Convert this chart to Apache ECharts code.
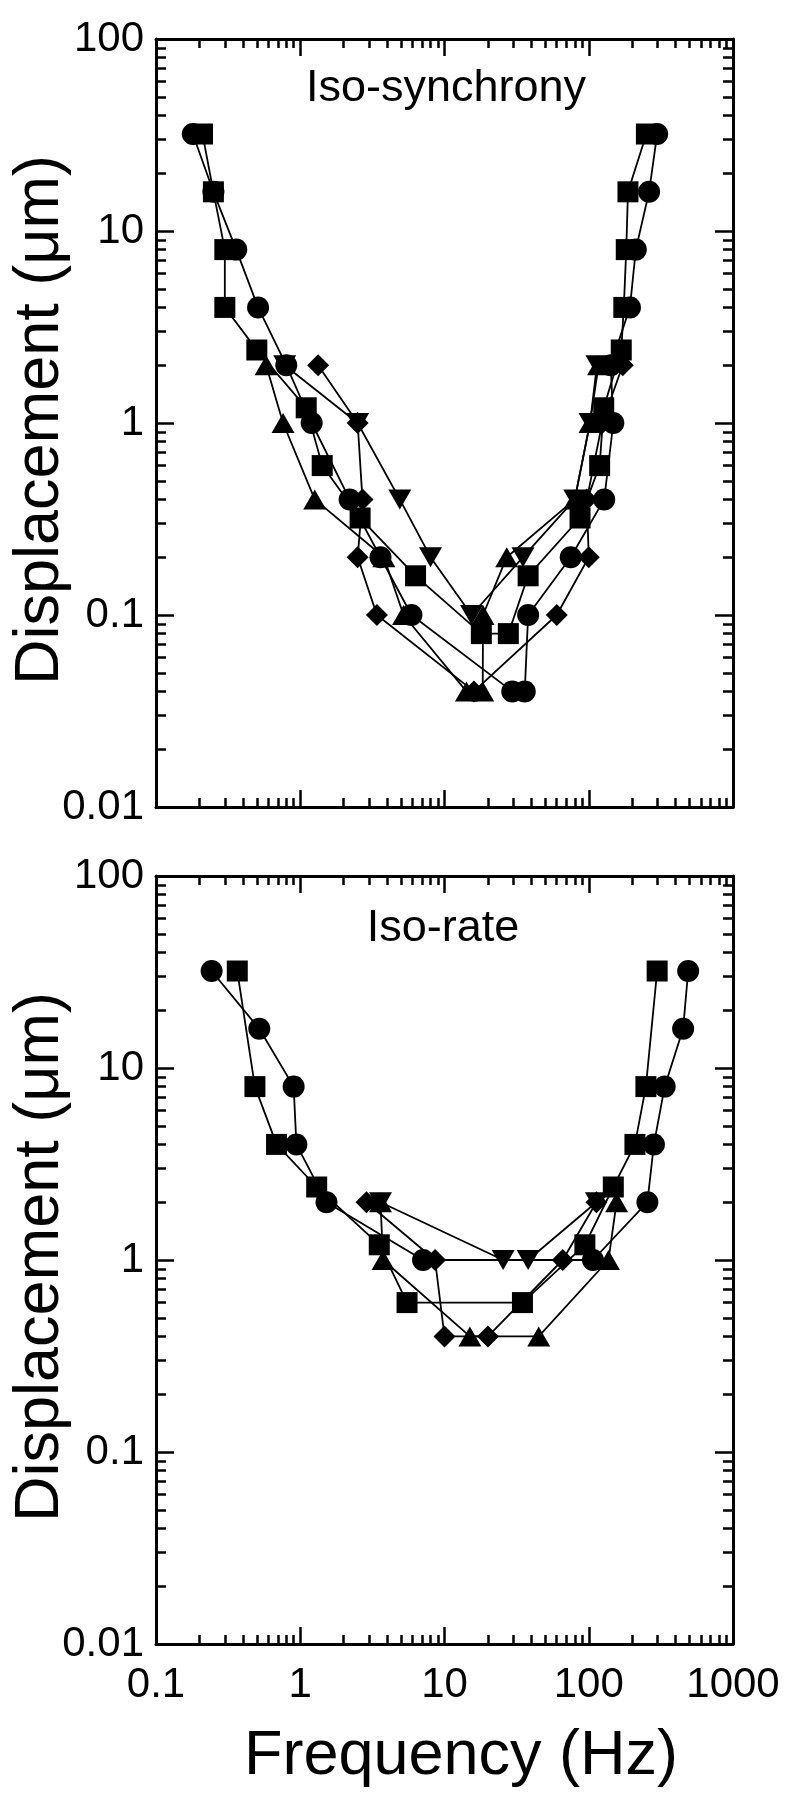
<!DOCTYPE html>
<html><head><meta charset="utf-8">
<script src="https://cdn.jsdelivr.net/npm/echarts@6.0.0/dist/echarts.min.js"></script>
<style>html,body{margin:0;padding:0;background:#fff}#c{width:788px;height:1800px}</style>
</head><body><div id="c"></div>
<script>
// ---- tick values / labels ----
const freqTicks = [0.1, 1, 10, 100, 1000];
const freqTickLabels = ['0.1', '1', '10', '100', '1000'];
const freqMinorTicks = [0.2,0.3,0.4,0.5,0.6,0.7,0.8,0.9, 2,3,4,5,6,7,8,9, 20,30,40,50,60,70,80,90, 200,300,400,500,600,700,800,900];
const dispTicks = [0.01, 0.1, 1, 10, 100];
const dispTickLabels = ['0.01', '0.1', '1', '10', '100'];
const dispMinorTicks = [0.02,0.03,0.04,0.05,0.06,0.07,0.08,0.09, 0.2,0.3,0.4,0.5,0.6,0.7,0.8,0.9, 2,3,4,5,6,7,8,9, 20,30,40,50,60,70,80,90];

// ---- Iso-synchrony panel: [frequency Hz, displacement um] ----
const syncCircle = [[0.18,32],[0.25,16],[0.36,8],[0.51,4],[0.80,2],[1.2,1],[2.2,0.4],[3.6,0.2],[5.9,0.1],[29.5,0.04],[36,0.04],[38,0.1],[75,0.2],[128,0.4],[148,1],[142,2],[193,4],[212,8],[262,16],[298,32]];
const syncSquare = [[0.21,32],[0.25,16],[0.30,8],[0.30,4],[0.50,2.4],[1.1,1.2],[1.42,0.6],[2.6,0.32],[6.3,0.16],[18,0.08],[27.7,0.08],[38,0.16],[87,0.32],[119,0.6],[127,1.2],[168,2.4],[175,4],[182,8],[187,16],[251,32]];
const syncTriangle = [[0.58,2],[0.76,1],[1.26,0.4],[3.8,0.2],[5.2,0.1],[14.2,0.04],[18.4,0.04],[18.5,0.1],[27,0.2],[80,0.4],[102,1],[117,2]];
const syncDiamond = [[1.33,2],[2.5,1],[2.7,0.4],[2.5,0.2],[3.4,0.1],[16,0.04],[60,0.1],[100,0.2],[97,0.4],[124,1],[172,2]];
const syncInvTriangle = [[0.78,2],[2.5,1],[4.9,0.4],[8.0,0.2],[15.4,0.1],[35,0.2],[80,0.4],[102,1],[114,2]];

// ---- Iso-rate panel ----
const rateCircle = [[0.243,32],[0.52,16],[0.90,8],[0.94,4],[1.52,2],[7.1,1],[107,1],[255,2],[283,4],[336,8],[451,16],[489,32]];
const rateSquare = [[0.366,32],[0.485,8],[0.685,4],[1.3,2.4],[3.53,1.2],[5.5,0.6],[34.7,0.6],[94,1.2],[148,2.4],[209,4],[249,8],[298,32]];
const rateTriangle = [[3.6,2],[3.75,1],[15,0.4],[45,0.4],[137,1],[156,2]];
const rateDiamond = [[2.88,2],[8.6,1],[10,0.4],[20,0.4],[66,1],[113,2]];
const rateInvTriangle = [[3.6,2],[25.5,1],[38,1],[113,2]];

const FONT = "'Liberation Sans', Arial, Helvetica, sans-serif";
const BLACK = '#000';

function fmtFreq(v){ const i = Math.round(Math.log10(v)) + 1; return freqTickLabels[i] || ''; }
function fmtDisp(v){ const i = Math.round(Math.log10(v)) + 2; return dispTickLabels[i] || ''; }

const grids = [
  {left:156, top:39, width:577, height:768, outerBoundsMode:'none'},
  {left:156, top:876, width:577, height:768, outerBoundsMode:'none'}
];

const xAxes = [], yAxes = [];
grids.forEach((g, gi) => {
  ['bottom','top'].forEach(pos => {
    xAxes.push({gridIndex:gi, type:'log', logBase:10, min:0.1, max:1000, position:pos,
      axisLine:{show:true, lineStyle:{color:BLACK, width:3}},
      axisTick:{show:true, inside:true, length:17, customValues:freqTicks, lineStyle:{color:BLACK, width:2.5}},
      axisLabel:{show: gi===1 && pos==='bottom', customValues:freqTicks, formatter:fmtFreq, color:BLACK, fontSize:42, fontFamily:FONT, margin:20},
      splitLine:{show:false}, minorTick:{show:false}});
    xAxes.push({gridIndex:gi, type:'log', logBase:10, min:0.1, max:1000, position:pos,
      axisLine:{show:false},
      axisTick:{show:true, inside:true, length:9, customValues:freqMinorTicks, lineStyle:{color:BLACK, width:2.5}},
      axisLabel:{show:false}, splitLine:{show:false}});
  });
  ['left','right'].forEach(pos => {
    yAxes.push({gridIndex:gi, type:'log', logBase:10, min:0.01, max:100, position:pos,
      axisLine:{show:true, lineStyle:{color:BLACK, width:3}},
      axisTick:{show:true, inside:true, length:18, customValues:dispTicks, lineStyle:{color:BLACK, width:2.5}},
      axisLabel:{show: pos==='left', customValues:dispTicks, formatter:fmtDisp, color:BLACK, fontSize:42, fontFamily:FONT, margin:12},
      splitLine:{show:false}});
    yAxes.push({gridIndex:gi, type:'log', logBase:10, min:0.01, max:100, position:pos,
      axisLine:{show:false},
      axisTick:{show:true, inside:true, length:10, customValues:dispMinorTicks, lineStyle:{color:BLACK, width:2.5}},
      axisLabel:{show:false}, splitLine:{show:false}});
  });
});

function mk(data, gi, symbol, size, rot){
  return {type:'line', xAxisIndex: gi*4, yAxisIndex: gi*4, data:data,
    symbol:symbol, symbolSize:size, symbolRotate: rot||0, showSymbol:true, showAllSymbol:true,
    lineStyle:{color:BLACK, width:1.8}, itemStyle:{color:BLACK, borderWidth:0},
    emphasis:{disabled:true}, animation:false, clip:false, z:3};
}

const series = [
  mk(syncCircle, 0, 'circle', 22),
  mk(syncTriangle, 0, 'triangle', [23,20]),
  mk(syncInvTriangle, 0, 'triangle', [23,20], 180),
  mk(syncDiamond, 0, 'diamond', 22),
  mk(syncSquare, 0, 'rect', 21),
  mk(rateCircle, 1, 'circle', 22),
  mk(rateTriangle, 1, 'triangle', [23,20]),
  mk(rateInvTriangle, 1, 'triangle', [23,20], 180),
  mk(rateDiamond, 1, 'diamond', 22),
  mk(rateSquare, 1, 'rect', 21)
];

function txt(text, x, y, size, rot){
  return {type:'text', x:x, y:y, rotation: rot||0, z:10,
    style:{text:text, font: size + 'px ' + FONT, fill:BLACK,
      align:'center', verticalAlign:'middle', textAlign:'center', textVerticalAlign:'middle'}};
}

const chart = echarts.init(document.getElementById('c'), null, {renderer:'canvas'});
chart.setOption({
  animation:false,
  backgroundColor:'#fff',
  grid: grids,
  xAxis: xAxes,
  yAxis: yAxes,
  series: series,
  graphic: [
    txt('Iso-synchrony', 446, 89, 45),
    txt('Iso-rate', 443, 929, 45),
    txt('Displacement (\u03bcm)', 41, 420, 63, Math.PI/2),
    txt('Displacement (\u03bcm)', 41, 1257, 63, Math.PI/2),
    txt('Frequency (Hz)', 461, 1757, 63)
  ]
});
</script></body></html>
